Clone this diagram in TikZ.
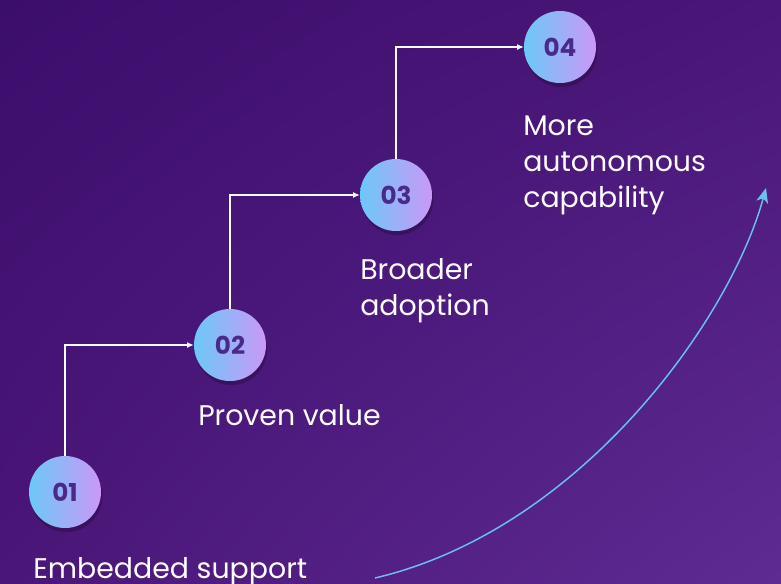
\documentclass[tikz,border=0pt]{standalone}
\usepackage{fontspec}
\setmainfont{Poppins}
\usetikzlibrary{arrows.meta,shadows,shadings}
\definecolor{bgA}{HTML}{3C0E6C}
\definecolor{bgB}{HTML}{4A1678}
\definecolor{bgC}{HTML}{5E2B93}
\definecolor{cirL}{HTML}{6CC8F8}
\definecolor{cirR}{HTML}{CB98F8}
\definecolor{numC}{HTML}{4A2A88}
\definecolor{curveC}{HTML}{6CC0EE}
\begin{document}
\begin{tikzpicture}[x=0.75pt,y=-0.75pt,
  stepcircle/.style={circle,minimum size=54pt,inner sep=0pt,
    left color=cirL,right color=cirR,shading angle=90,
    drop shadow={shadow xshift=1pt,shadow yshift=-3pt,opacity=0.22,fill=black},
    text=numC,font=\bfseries\fontsize{18.5}{18.5}\selectfont},
  steplabel/.style={text=white,font=\fontsize{21.3}{27}\selectfont,align=left,inner sep=0pt},
  conn/.style={draw=white,line width=0.9pt,-{Latex[length=5pt,width=4.5pt]}},
  growth/.style={draw=curveC,line width=1.1pt,-{Stealth[length=11pt,width=9pt,inset=3pt]}}]
\useasboundingbox (0,0) rectangle (781,583);
\shade[upper left=bgA,upper right=bgB,lower left=bgB,lower right=bgC] (0,0) rectangle (781,583);
% step circles
\node[stepcircle] (n1) at (65,492) {01};
\node[stepcircle] (n2) at (230,345) {02};
\node[stepcircle] (n3) at (396,195) {03};
\node[stepcircle] (n4) at (560,47) {04};
% labels (base = last line's baseline)
\node[steplabel,anchor=base west] (l1) at (33,578) {Embedded support};
\node[steplabel,anchor=base west] (l2) at (198,425) {Proven value};
\node[steplabel,anchor=base west] (l3) at (360,315) {Broader\\adoption};
\node[steplabel,anchor=base west] (l4) at (523,207) {More\\autonomous\\capability};
% connectors
\draw[conn] (n1.north) |- (n2.west);
\draw[conn] (n2.north) |- (n3.west);
\draw[conn] (n3.north) |- (n4.west);
% growth curve
\coordinate (cs) at (375,578);
\coordinate (ce) at (766,188);
\draw[growth] (cs) .. controls (580,530) and (730,320) .. (ce);
\end{tikzpicture}
\end{document}
